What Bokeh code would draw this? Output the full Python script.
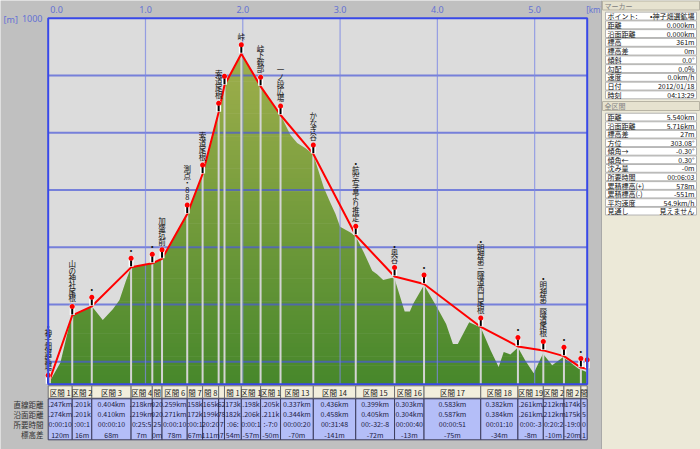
import numpy as np
from bokeh.plotting import figure
from bokeh.models import Range1d
from bokeh.embed import file_html
from bokeh.resources import INLINE
from bokeh.core.properties import value

W, H = 700, 449
JP = value("Noto Sans CJK JP")

# ---------------- data ----------------
x_ticks = [0.0, 1.0, 2.0, 3.0, 4.0, 5.0]
x_tick_labels = ["0.0", "1.0", "2.0", "3.0", "4.0", "5.0"]
y_ticks = [1000, 900, 800, 700, 600, 500, 400, 361]
y_tick_labels = ["1000", "900", "800", "700", "600", "500", "400", "361"]
grid_y = [400, 500, 600, 700, 800, 900]
grid_x = [1.0, 2.0, 3.0, 4.0, 5.0]

# waypoints (horizontal distance km, elevation m)
wp_km = [0.000, 0.247, 0.448, 0.852, 1.070, 1.170, 1.429, 1.587, 1.752, 1.812, 1.985,
         2.183, 2.388, 2.725, 3.161, 3.560, 3.863, 4.446, 4.828, 5.089, 5.301, 5.475, 5.540]
wp_m = [361, 481, 497, 565, 572, 580, 658, 728, 836, 883, 938,
        881, 831, 763, 621, 549, 536, 461, 427, 420, 410, 390, 388]
wp_names = ["•神子畑選鉱場", "山の神社尾根", "•", "•", "•", "加盛坑前", "測点・88", "索道尾根",
            "索道尾根", "", "峠", "峠下鞍部", "一ノ段広場", "かなぎ谷", "•航空写真より推定", "•奥谷",
            "•", "•明神第三隧道西口尾根", "•", "•明神第二隧道尾根", "•", "•", ""]

# terrain profile
terrain_km = [0.000, 0.126, 0.236, 0.247, 0.448, 0.561, 0.664, 0.733, 0.800, 0.852, 1.070,
              1.170, 1.429, 1.587, 1.752, 1.812, 1.985, 2.183, 2.388, 2.490, 2.559, 2.645,
              2.725, 2.833, 2.900, 2.953, 3.000, 3.107, 3.161, 3.244, 3.330, 3.380, 3.443,
              3.535, 3.560, 3.664, 3.717, 3.750, 3.863, 4.000, 4.090, 4.160, 4.210, 4.327,
              4.446, 4.548, 4.630, 4.682, 4.750, 4.828, 4.905, 4.990, 5.085, 5.180, 5.290,
              5.368, 5.450, 5.540]
terrain_m = [361, 399, 478, 482, 497, 473, 492, 508, 542, 565, 572,
             580, 658, 728, 836, 883, 938, 881, 831, 796, 782, 773,
             762, 704, 678, 658, 636, 626, 619, 591, 559, 553, 543,
             547, 545, 488, 488, 501, 534, 494, 466, 431, 431, 469,
             460, 420, 391, 417, 413, 425, 402, 380, 414, 394, 408,
             399, 388, 382]

# segment table (visible cell texts)
row_labels = ["直線距離", "沿面距離", "所要時間", "標高差"]
seg_head = ["区間 1", "区間 2", "区間 3", "区間 4", "間", "区間 6", "間 7", "間 8", "", "間 1",
            "区間 1", "区間 1", "区間 13", "区間 14", "区間 15", "区間 16", "区間 17", "区間 18",
            "区間 19", "区間 2", "間 2", "間"]
seg_direct = [".247km", ".201k", "0.404km", ".218km", "020", ".259km", "158k", "165k", "62",
              "173k", ".198k", ".205k", "0.337km", "0.436km", "0.399km", "0.303km", "0.583km",
              "0.382km", ".261km", ".212km", "174k", "5"]
seg_surface = [".274km", ".201k", "0.410km", ".219km", "020", ".271km", "172k", "199k", "78",
               "182k", ".206k", ".211k", "0.344km", "0.458km", "0.405km", "0.304km", "0.587km",
               "0.384km", ".261km", ".212km", "175k", "5"]
seg_time = ["0:00:10", ":00:1", "00:00:10", "0:25:5", "25", "0:00:10", ":00:1", "20:20", "7",
            ":06:", "0:00:1", ":-7:0", "00:00:20", "00:31:48", "00:-32:-8", "00:00:40",
            "00:00:51", "00:01:10", "0:00:-3", "0:20:2", "-19:0", "0"]
seg_dh = ["120m", "16m", "68m", "7m", "0m", "78m", "67m", "111m", "7", "54m", "-57m", "-50m",
          "-70m", "-141m", "-72m", "-13m", "-75m", "-34m", "-8m", "-10m", "-20m", "1"]

# right panel
panel1_title = "マーカー"
panel1_labels = ["ポイント:", "距離", "沿面距離", "標高", "標高差", "傾斜", "勾配", "速度", "日付", "時刻"]
panel1_values = ["•神子畑選鉱場", "0.000km", "0.000km", "361m", "0m", "0.0°", "0.0%", "0.0km/h",
                 "2012/01/18", "04:13:29"]
panel2_title = "全区間"
panel2_labels = ["距離", "沿面距離", "標高差", "方位", "傾角→", "傾角←", "沈み量", "所要時間",
                 "累積標高(+)", "累積標高(-)", "平均速度", "見通し"]
panel2_values = ["5.540km", "5.716km", "27m", "303.08°", "-0.30°", "0.30°", "-0m", "00:06:03",
                 "578m", "-551m", "54.9km/h", "見えません"]

# ---------------- layout ----------------
PX_L, PX_R = 47.7, 586.7
PY_T, PY_B = 17.7, 383.7
KM_MAX = 5.54
YMIN, YMAX = 361, 1000
kpp = KM_MAX / (PX_R - PX_L)
mpp = (YMAX - YMIN) / (PY_B - PY_T)

p = figure(width=W, height=H,
           x_range=Range1d(-PX_L * kpp, (W - PX_L) * kpp),
           y_range=Range1d(YMIN - (H - PY_B) * mpp, YMAX + PY_T * mpp),
           x_axis_location=None, y_axis_location=None, min_border=0,
           toolbar_location=None, output_backend="svg",
           background_fill_color="#c0c0c0", border_fill_color="#c0c0c0",
           outline_line_color=None)
p.xgrid.visible = False
p.ygrid.visible = False
p.extra_x_ranges = {"px": Range1d(0, W)}
p.extra_y_ranges = {"py": Range1d(H, 0)}

# plot interior
p.quad(left=[0], right=[KM_MAX], bottom=[YMIN], top=[YMAX], fill_color="#dcdcdc", line_color=None)

# gradient bands for terrain
edges = np.arange(YMIN, YMAX + 1, 8.0)
top_c = np.array([170, 180, 80])
bot_c = np.array([72, 136, 44])
cols = []
for e in edges[:-1]:
    t = (e - YMIN) / (YMAX - YMIN)
    c = bot_c + (top_c - bot_c) * t
    cols.append("#%02x%02x%02x" % tuple(int(v) for v in c))
p.quad(left=0, right=KM_MAX, bottom=edges[:-1], top=edges[1:] + 1.0, fill_color=cols, line_color=None)

# sky above terrain
p.varea(x=terrain_km, y1=terrain_m, y2=[YMAX] * len(terrain_km), fill_color="#dcdcdc")

# grid
p.segment(x0=0, x1=KM_MAX, y0=grid_y, y1=grid_y, line_color="#4a58d8", line_width=2, line_alpha=0.7)
p.segment(x0=grid_x, x1=grid_x, y0=YMIN, y1=YMAX, line_color="#7c88e4", line_width=1.2, line_alpha=0.75)

# waypoint drop lines
p.segment(x0=wp_km, x1=wp_km, y0=YMIN, y1=wp_m, line_color="#d4d4d4", line_width=2)

# route line
p.line(wp_km, wp_m, line_color="#ff0000", line_width=2)

# markers
wp_m_arr = np.array(wp_m, dtype=float)
p.segment(x0=wp_km, x1=wp_km, y0=wp_m_arr + 0.5 * mpp, y1=wp_m_arr + 11 * mpp,
          line_color="white", line_width=5)
p.segment(x0=wp_km, x1=wp_km, y0=wp_m_arr + 1 * mpp, y1=wp_m_arr + 7 * mpp,
          line_color="#000000", line_width=2)
p.scatter(x=wp_km, y=wp_m_arr + 9 * mpp, size=5, fill_color="#ff0000", line_color=None)

# labels (vertical writing)
vnames = ["\n".join(list(n)) for n in wp_names]
p.text(x=wp_km, y=wp_m_arr + 12 * mpp, text=vnames, text_align="center", text_baseline="bottom",
       text_font=JP, text_font_size="7.5px", text_line_height=0.63, text_color="#101010")

# frame
p.quad(left=[0], right=[KM_MAX], bottom=[YMIN], top=[YMAX], fill_color=None,
       line_color="#3848e8", line_width=2)

# axis labels
axis_col = "#6472d4"
AF = value("Noto Sans")
p.text(x=x_ticks[1:], y=[YMAX + 8.3 * mpp] * 5, text=x_tick_labels[1:], text_align="center",
       text_baseline="middle", text_font=AF, text_font_size="9px", text_color=axis_col)
p.text(x=[x_ticks[0] + 2 * kpp], y=[YMAX + 8.3 * mpp], text=[x_tick_labels[0]], text_align="left",
       text_baseline="middle", text_font=AF, text_font_size="9px", text_color=axis_col)
p.text(x=[KM_MAX - 1 * kpp], y=[YMAX + 8.3 * mpp], text=["[km]"], text_align="left",
       text_baseline="middle", text_font=AF, text_font_size="8px", text_color=axis_col)
p.text(x=[42], y=y_ticks, x_range_name="px", text=y_tick_labels, text_align="right",
       text_baseline="middle", text_font=AF, text_font_size="9px", text_color=axis_col)
p.text(x=[3], y=[19], x_range_name="px", y_range_name="py", text=["[m]"], text_align="left",
       text_baseline="middle", text_font=AF, text_font_size="9px", text_color=axis_col)

# ---------------- segment table ----------------
c0 = wp_km[:-1]
c1 = wp_km[1:]
cx = [(a + b) / 2 for a, b in zip(c0, c1)]
p.quad(left=c0, right=c1, top=385.3, bottom=397.7, y_range_name="py",
       fill_color="#f2eedc", line_color="#707070", line_width=1)
p.quad(left=c0, right=c1, top=398.3, bottom=439.3, y_range_name="py",
       fill_color="#b4bef8", line_color="#3c3c5c", line_width=1)
p.text(x=cx, y=[391.8] * len(cx), y_range_name="py", text=seg_head, text_align="center",
       text_baseline="middle", text_font=JP, text_font_size="7.5px", text_color="#202020")
row_y = [403.6, 413.6, 423.8, 434.0]
for ry, row in zip(row_y, [seg_direct, seg_surface, seg_time, seg_dh]):
    p.text(x=cx, y=[ry] * len(cx), y_range_name="py", text=row, text_align="center",
           text_baseline="middle", text_font=JP, text_font_size="7px", text_color="#1c1c44")
p.text(x=[43] * 4, y=row_y, x_range_name="px", y_range_name="py", text=row_labels,
       text_align="right", text_baseline="middle", text_font=JP, text_font_size="7.5px",
       text_color="#303030")

# ---------------- right panel ----------------
PL, PR = 601, 700
p.quad(left=[PL], right=[PR], top=[0], bottom=[H], x_range_name="px", y_range_name="py",
       fill_color="#ece9d8", line_color=None)
p.segment(x0=[PL], x1=[PL], y0=[0], y1=[H], x_range_name="px", y_range_name="py",
          line_color="#a8a8a8", line_width=1)
for ty, title in [(0.5, panel1_title), (101.0, panel2_title)]:
    p.quad(left=[PL + 1], right=[PR - 1], top=[ty], bottom=[ty + 9], x_range_name="px",
           y_range_name="py", fill_color="#e6e2cf", line_color="#b8b4a4", line_width=1)
    p.text(x=[PL + 3], y=[ty + 4.7], x_range_name="px", y_range_name="py", text=[title],
           text_align="left", text_baseline="middle", text_font=JP, text_font_size="7px",
           text_color="#808080")

def panel_table(y0, pitch, labels, values):
    ys = [y0 + i * pitch for i in range(len(labels))]
    p.quad(left=PL + 4, right=PR - 4, top=[y - pitch / 2 + 0.4 for y in ys],
           bottom=[y + pitch / 2 - 0.4 for y in ys], x_range_name="px", y_range_name="py",
           fill_color="white", line_color="#b4b4b4", line_width=1)
    p.text(x=[PL + 6] * len(ys), y=ys, x_range_name="px", y_range_name="py", text=labels,
           text_align="left", text_baseline="middle", text_font=JP, text_font_size="7px",
           text_color="#101010")
    p.text(x=[PR - 6] * len(ys), y=ys, x_range_name="px", y_range_name="py", text=values,
           text_align="right", text_baseline="middle", text_font=JP, text_font_size="7px",
           text_color="#101010")

panel_table(15.6, 8.75, panel1_labels, panel1_values)
panel_table(116.6, 8.55, panel2_labels, panel2_values)

open("out.html", "w").write(file_html(p, INLINE))
